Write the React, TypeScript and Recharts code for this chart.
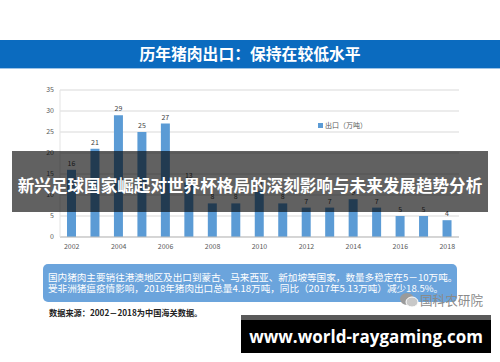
import React from "react";
import { BarChart, Bar, XAxis, YAxis, CartesianGrid, LabelList } from "recharts";

const years = ["2002","2003","2004","2005","2006","2007","2008","2009","2010","2011","2012","2013","2014","2015","2016","2017","2018"];
const exportsWanTon = [16, 21, 29, 25, 27, 13, 8, 8, 11, 8, 7, 7, 9, 7, 5, 5, 4];
const yTicks = [0, 5, 10, 15, 20, 25, 30, 35];
const seriesName = "出口（万吨）";
const titleText = "历年猪肉出口：保持在较低水平";
const bannerText = "新兴足球国家崛起对世界杯格局的深刻影响与未来发展趋势分析";
const noteLines = [
  "国内猪肉主要销往港澳地区及出口到蒙古、马来西亚、新加坡等国家，数量多稳定在5－10万吨。",
  "受非洲猪瘟疫情影响，2018年猪肉出口总量4.18万吨，同比（2017年5.13万吨）减少18.5%。",
];
const sourceText = "数据来源：2002－2018为中国海关数据。";
const watermarkText = "国科农研院";
const siteText = "www.world-raygaming.com";

const data = years.map((y, i) => ({ year: y, value: exportsWanTon[i] }));

const CJK = '"Noto Sans CJK SC", "Noto Sans", sans-serif';

export default function App() {
  return (
    <div style={{ position: "absolute", left: 0, top: 0, width: 500, height: 362, background: "#fff", overflow: "hidden", fontFamily: CJK }}>
      {/* title band */}
      <div style={{ position: "absolute", left: 0, top: 40, width: 500, height: 28, background: "#0b6bbf", color: "#fff", fontWeight: 700, fontSize: 15.8, lineHeight: "28px", textAlign: "center", whiteSpace: "nowrap" }}>
        {titleText}
      </div>
      <div style={{ position: "absolute", left: 0, top: 68, width: 500, height: 1, background: "#9dc3e6" }} />

      <div style={{ position: "absolute", left: 0, top: 0 }}>
        <BarChart width={500} height={260} data={data} margin={{ top: 90, right: 41, bottom: 0, left: 0 }}>
          <CartesianGrid vertical={false} stroke="#d9d9d9" strokeWidth={1} />
          <XAxis
            dataKey="year"
            height={23}
            interval={1}
            tickLine={false}
            axisLine={{ stroke: "#bfbfbf" }}
            tick={{ fontSize: 7, fill: "#595959", fontFamily: CJK }}
            tickSize={5}
            tickMargin={2}
          />
          <YAxis
            width={60}
            domain={[0, 35]}
            ticks={yTicks}
            interval={0}
            tickLine={false}
            axisLine={{ stroke: "#e3e3e3" }}
            tick={{ fontSize: 7, fill: "#595959", fontFamily: CJK }}
            tickSize={4}
            tickMargin={2}
          />
          <Bar dataKey="value" name={seriesName} fill="#5b9bd5" barSize={9} isAnimationActive={false}>
            <LabelList dataKey="value" position="top" offset={4} fontSize={7} fill="#404040" fontFamily={CJK} />
          </Bar>
        </BarChart>
      </div>

      {/* legend */}
      <div style={{ position: "absolute", left: 318, top: 120, display: "flex", alignItems: "center", fontSize: 7, lineHeight: "10px", color: "#595959", whiteSpace: "nowrap" }}>
        <span style={{ display: "inline-block", width: 5, height: 5, background: "#5b9bd5", marginRight: 2 }} />
        <span>{seriesName}</span>
      </div>

      {/* dark banner overlay */}
      <div style={{ position: "absolute", left: 12, top: 151, width: 476, height: 61, background: "rgba(0,0,0,0.62)" }} />
      <div style={{ position: "absolute", left: 0, top: 172, width: 500, height: 26, lineHeight: "26px", color: "#fff", fontWeight: 700, fontSize: 16.6, textAlign: "center", whiteSpace: "nowrap" }}>
        {bannerText}
      </div>

      {/* note box */}
      <div style={{ position: "absolute", left: 43, top: 264, width: 414, height: 38, background: "#6ba4dc", borderRadius: 5 }} />
      <div style={{ position: "absolute", left: 48, top: 272, width: 420, color: "#fff", fontSize: 9.6, lineHeight: "11px", whiteSpace: "nowrap" }}>
        <div>{noteLines[0]}</div>
        <div>{noteLines[1]}</div>
      </div>

      {/* watermark */}
      <svg style={{ position: "absolute", left: 399, top: 292 }} width={20} height={16}>
        <ellipse cx={8} cy={7} rx={7} ry={6} fill="#9a9a9a" />
        <ellipse cx={13} cy={10} rx={6} ry={5} fill="#c8c8c8" stroke="#fff" strokeWidth={1} />
      </svg>
      <div style={{ position: "absolute", left: 420, top: 291, fontSize: 12.6, lineHeight: "18px", color: "#8a8a8a", whiteSpace: "nowrap" }}>
        {watermarkText}
      </div>

      {/* source */}
      <div style={{ position: "absolute", left: 49, top: 306, fontSize: 8.2, lineHeight: "12px", fontWeight: 700, color: "#222", whiteSpace: "nowrap" }}>
        {sourceText}
      </div>

      {/* site box */}
      <div style={{ position: "absolute", left: 241, top: 315, width: 250, height: 5, background: "#5a5a5a" }} />
      <div style={{ position: "absolute", left: 241, top: 320, width: 250, height: 33, background: "#000", color: "#fff", fontWeight: 700, fontSize: 17, lineHeight: "33px", textAlign: "center", fontFamily: '"Open Sans", sans-serif', whiteSpace: "nowrap" }}>
        {siteText}
      </div>
    </div>
  );
}
